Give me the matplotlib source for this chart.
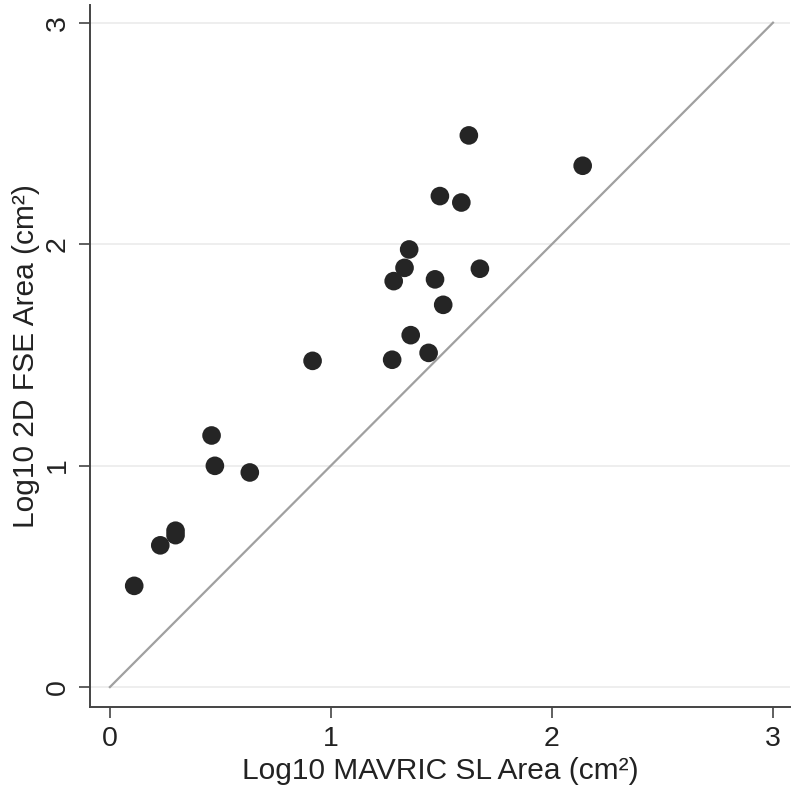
import matplotlib
matplotlib.use("Agg")
import matplotlib.pyplot as plt

# log10 areas
mavric_sl = [0.110, 0.228, 0.297, 0.297, 0.460, 0.475, 0.633, 0.917,
             1.277, 1.284, 1.333, 1.354, 1.361, 1.442, 1.471, 1.493,
             1.508, 1.590, 1.624, 1.674, 2.139]
fse_2d = [0.457, 0.640, 0.706, 0.686, 1.136, 0.999, 0.969, 1.473,
          1.478, 1.833, 1.893, 1.976, 1.589, 1.509, 1.841, 2.217,
          1.726, 2.188, 2.491, 1.889, 2.354]
identity = [0, 3]
ticks = [0, 1, 2, 3]

plt.rcParams['font.family'] = ['Liberation Sans', 'DejaVu Sans']

fig = plt.figure(figsize=(8, 7.88), dpi=100)
ax = fig.add_axes([0.1125, 0.1028, 0.875, 0.8909])

for t in ticks:
    ax.axhline(t, color='#ebebeb', lw=1.2, zorder=0)

ax.plot(identity, identity, color='#a0a0a0', lw=1.6, zorder=1)
ax.scatter(mavric_sl, fse_2d, s=180, color='#252525', edgecolors='none', zorder=3)

ax.set_xlim(-0.09, 3.077)
ax.set_ylim(-0.09, 3.08)
ax.set_xticks(ticks)
ax.set_yticks(ticks)
ax.tick_params(direction='out', length=8, width=1.2, color='#444444',
               labelsize=20.5, labelcolor='#222222', pad=6)
for lab in ax.get_yticklabels():
    lab.set_rotation(90)
    lab.set_va('center')

for side in ['top', 'right']:
    ax.spines[side].set_visible(False)
for side in ['left', 'bottom']:
    ax.spines[side].set_color('#444444')
    ax.spines[side].set_linewidth(1.4)

ax.set_xlabel('Log10 MAVRIC SL Area (cm²)', fontsize=21.5, color='#222222', labelpad=3)
ax.set_ylabel('Log10 2D FSE Area (cm²)', fontsize=21.5, color='#222222', labelpad=3)

fig.savefig('out.png', dpi=100)
